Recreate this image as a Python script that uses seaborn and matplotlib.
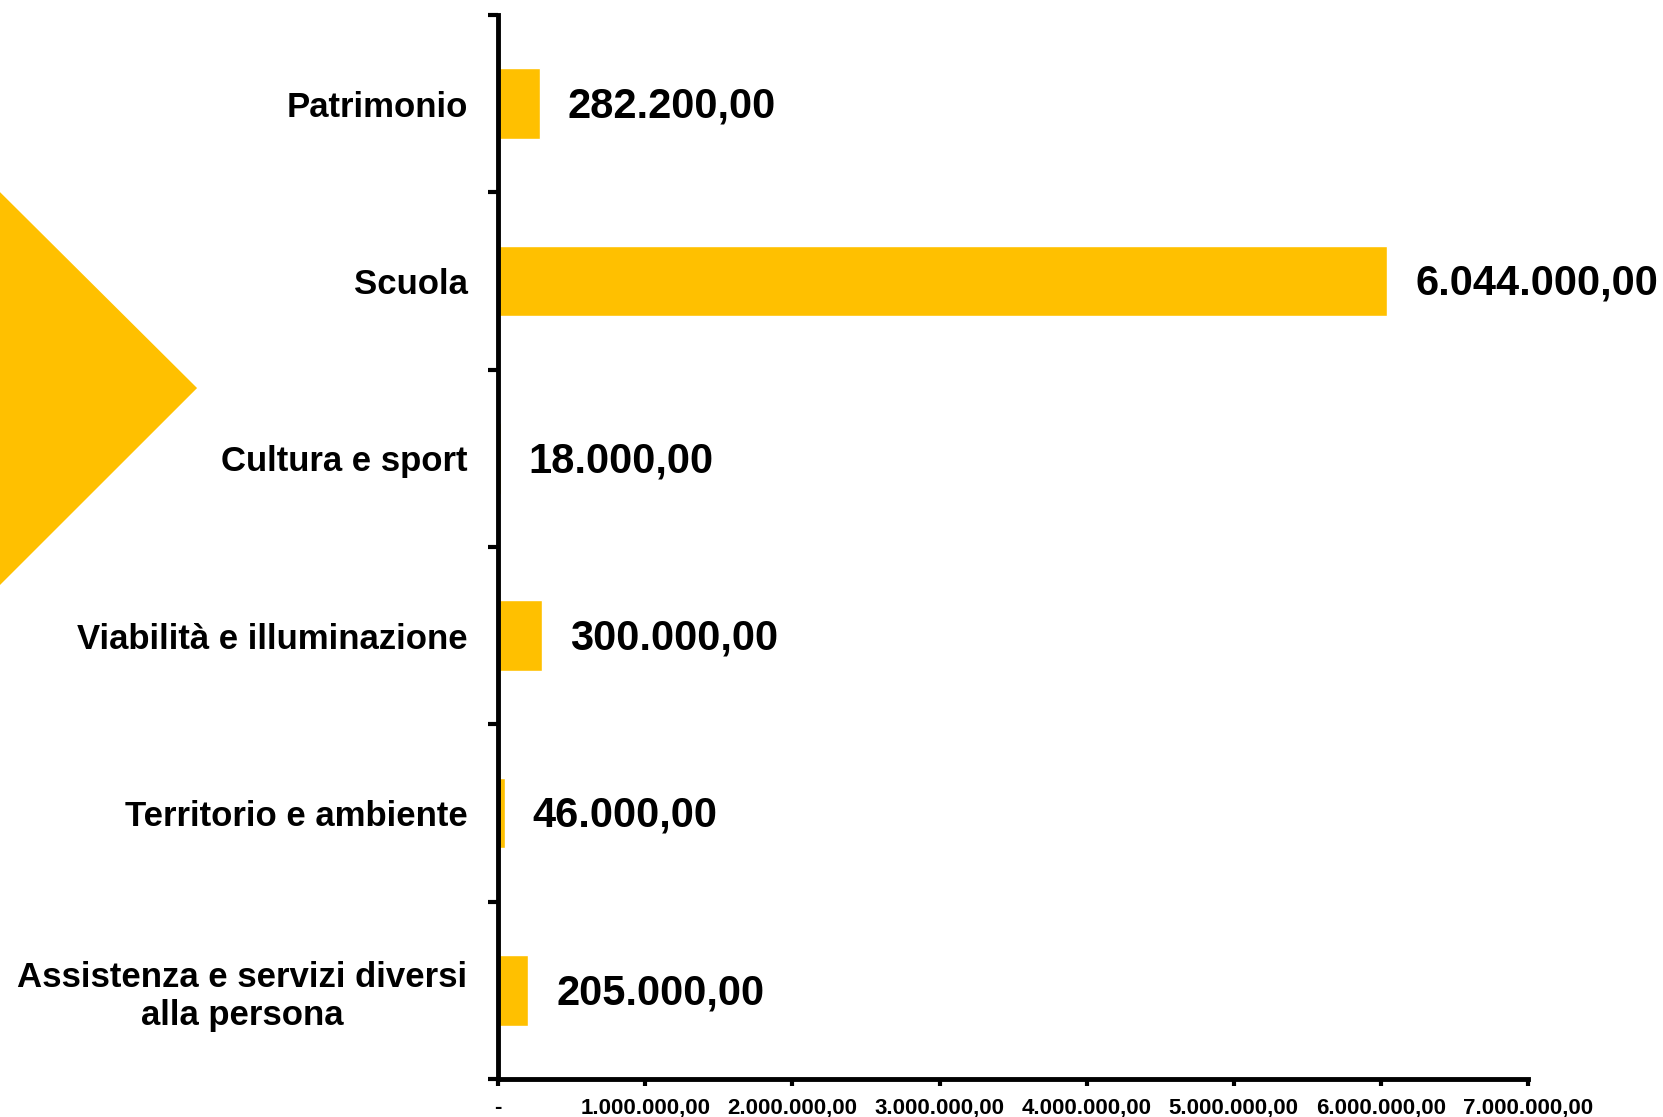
import numpy as np
import pandas as pd
import seaborn as sns
import matplotlib.pyplot as plt
from matplotlib.patches import Polygon

categorie = ['Patrimonio', 'Scuola', 'Cultura e sport', 'Viabilità e illuminazione',
             'Territorio e ambiente', 'Assistenza e servizi diversi\nalla persona']
importi = [282200.00, 6044000.00, 18000.00, 300000.00, 46000.00, 205000.00]
xticks = [0, 1000000, 2000000, 3000000, 4000000, 5000000, 6000000, 7000000]

GIALLO = '#FFC000'


def fmt_it(v):
    # formato italiano: 1.234.567,89
    s = f"{v:,.2f}"
    return s.replace(',', 'X').replace('.', ',').replace('X', '.')


df = pd.DataFrame({'categoria': categorie, 'importo': importi})

sns.set_style('white')
plt.rcParams['font.family'] = ['Liberation Sans', 'DejaVu Sans']
plt.rcParams['font.weight'] = 'bold'
plt.rcParams['text.color'] = 'black'
plt.rcParams['xtick.color'] = 'black'
plt.rcParams['ytick.color'] = 'black'

fig = plt.figure(figsize=(16.63, 11.17), dpi=100)
ax = fig.add_axes([0.2995, 0.034, 0.6194, 0.9526])

sns.barplot(data=df, x='importo', y='categoria', orient='h', color=GIALLO,
            saturation=1, width=0.4, ax=ax)

etichette = ax.bar_label(ax.containers[0], labels=[fmt_it(v) for v in importi], padding=20,
                         fontsize=30, fontweight='bold', color='black')
for t in etichette:
    t.xyann = (20, -2)

ax.set_xlim(0, 7000000)
ax.set_ylim(len(categorie) - 0.5, -0.5)
ax.set_xticks(xticks)
ax.set_xticklabels(['-'] + [fmt_it(v) for v in xticks[1:]], fontsize=16, fontweight='bold')
ax.set_yticks(range(len(categorie)))
ax.set_yticklabels(categorie, fontsize=25, fontweight='bold', multialignment='center')
ax.set_yticks(np.arange(-0.5, len(categorie), 1), minor=True)
ax.tick_params(axis='y', which='major', left=True, length=0, pad=22)
ax.tick_params(axis='y', which='minor', left=True, length=7, width=3, direction='out')
ax.tick_params(axis='x', which='major', bottom=True, length=5, width=3, direction='out', pad=8)
ax.set_xlabel('')
ax.set_ylabel('')

for s in ['top', 'right']:
    ax.spines[s].set_visible(False)
for s in ['left', 'bottom']:
    ax.spines[s].set_linewidth(3.5)
    ax.spines[s].set_color('black')

# triangolo decorativo a sinistra
fig.patches.append(Polygon([[0, 0.828], [0.1185, 0.6526], [0, 0.4763]], closed=True,
                           transform=fig.transFigure, facecolor=GIALLO, edgecolor='none'))

fig.savefig('out.png', dpi=100, facecolor='white')
